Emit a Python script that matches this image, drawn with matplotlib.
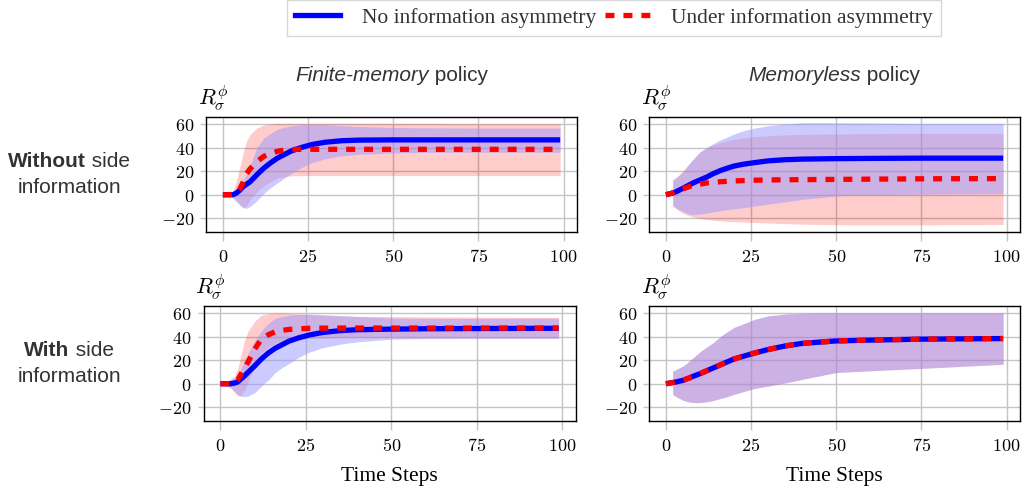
import numpy as np
import matplotlib
matplotlib.use("Agg")
import matplotlib.pyplot as plt
from matplotlib.lines import Line2D
from matplotlib.ticker import FuncFormatter

plt.rcParams['mathtext.fontset'] = 'cm'

nan = np.nan
# ---------------- data ----------------
T = [0, 1, 2, 3, 4, 5, 6, 7, 8, 10, 12, 14, 16, 18, 20, 23, 26, 30, 35, 40, 50, 60, 75, 99]

# Finite-memory, without side information
fm_ns_blue_mean = [0, 0, 0, 0, 1.5, 4, 7, 9, 11, 17, 22.5, 27, 31, 34, 37, 40, 42.5, 44.5, 45.8, 46.3, 46.5, 46.5, 46.5, 46.5]
fm_ns_blue_lo = [0, -0.5, -1, -3, -6, -9, -11, -11.5, -10, -5, 1, 6, 10, 14, 18, 23, 27, 30.5, 33, 34.3, 35.5, 36, 36, 36]
fm_ns_blue_hi = [0, 0.5, 1, 2, 4, 7, 12, 18, 25, 40, 48, 52, 55.5, 57.2, 58.3, 59.3, 59.7, 59.5, 58.5, 57.8, 57, 56.7, 56.5, 56.5]
fm_ns_red_mean = [0, 0, 0, 0.5, 2, 5, 11, 18, 22, 28, 32.5, 35, 36.8, 37.8, 38.3, 38.5, 38.5, 38.5, 38.5, 38.5, 38.5, 38.5, 38.5, 38.5]
fm_ns_red_lo = [0, -0.5, -1, -2, -5, -8, -11, -9, -4, 2.5, 7.5, 11, 14, 15.3, 16, 16.2, 16.2, 16.2, 16.2, 16.2, 16.2, 16.2, 16.2, 16.2]
fm_ns_red_hi = [0, 0.5, 1, 3, 12, 24, 36, 46, 51, 56.5, 59, 60, 60.5, 60.5, 60.5, 60.5, 60.5, 60.5, 60.5, 60.5, 60.5, 60.4, 60.3, 60.3]

# Memoryless, without side information
ml_ns_blue_mean = [0, 0.7, 1.5, 2.5, 4, 5.4, 7, 8.5, 10, 12.5, 15, 18, 20.5, 22.5, 24.3, 26, 27.2, 28.7, 29.7, 30.2, 30.6, 30.8, 31, 31]
ml_ns_blue_lo = [nan, nan, -9, -11, -13, -14, -15.5, -16.5, -17, -16.5, -15.5, -14.5, -13.5, -12.8, -12, -11, -9.5, -8, -6, -4, -1, 0, 0.5, 1]
ml_ns_blue_hi = [nan, nan, 12.5, 14.5, 17, 19.6, 23, 26.5, 30, 36.5, 40, 43.5, 46.5, 49, 51.5, 54.5, 56.5, 58.5, 60, 61, 61, 60.8, 60.5, 60.5]
ml_ns_red_mean = [0, 0.7, 1.5, 2.5, 3.8, 4.8, 6, 7, 8, 9, 10, 10.6, 11, 11.4, 11.7, 12, 12.3, 12.5, 12.7, 12.8, 13, 13.2, 13.5, 13.7]
ml_ns_red_lo = [nan, nan, -10, -12, -14, -15.7, -17, -18, -19, -20, -21, -21.7, -22.2, -22.6, -22.8, -23.2, -23.6, -24, -24.5, -25, -25.5, -25.6, -25.6, -25.3]
ml_ns_red_hi = [nan, nan, 12.5, 14.5, 17, 20, 23.5, 27, 30, 36, 40, 42.5, 44.3, 45.7, 47, 48.3, 49.2, 50, 50.7, 51.2, 51.5, 51.8, 52, 52]

# Finite-memory, with side information
fm_ws_blue_mean = [0, 0, 0, 0, 0.5, 1.4, 4, 6.5, 9.4, 15, 21, 26, 30, 33, 36, 39, 41.3, 43.5, 45, 45.8, 46.3, 46.6, 46.8, 47]
fm_ws_blue_lo = [0, -1, -2, -3.4, -6, -9, -10.5, -11, -10.5, -7.7, -2, 3, 9.3, 13.5, 17, 22.5, 26.8, 30.6, 33.5, 35.5, 37.8, 38.2, 38.3, 38.3]
fm_ws_blue_hi = [0, 1, 2, 3.7, 5, 6.5, 12, 19, 25, 36, 45, 51, 55.4, 57, 58, 58.8, 59, 58.6, 57.8, 57, 55.7, 55.5, 55.4, 55.4]
fm_ws_red_mean = [0, 0, 0, 0, 1, 3, 8, 13, 18, 29, 38, 41.5, 44, 45.2, 46, 46.6, 47, 47.1, 47.2, 47.2, 47.2, 47.2, 47.2, 47.2]
fm_ws_red_lo = [0, -1, -2, -3.4, -7, -10, -10.5, -6, 1, 15, 26, 31, 34, 36, 37.2, 38, 38.4, 38.6, 38.8, 39, 39, 39, 39, 39]
fm_ws_red_hi = [0, 1, 2, 3.7, 6, 12, 24, 36, 44, 53, 58, 59.5, 60, 60, 59.7, 59.2, 58.7, 58, 57.5, 57.2, 56.9, 56.6, 56.4, 56.3]

# Memoryless, with side information (both settings coincide)
ml_ws_blue_mean = [0, 0.5, 1, 1.5, 2.2, 2.8, 4, 5, 6.3, 8.5, 11, 13.5, 16, 18.5, 21, 23.5, 26, 29, 32, 34.2, 36.3, 37, 37.8, 38.3]
ml_ws_blue_lo = [nan, nan, -9, -11, -12.5, -14, -15, -15.5, -16, -16, -15.3, -14.2, -12.5, -11, -9, -6.5, -4, -2, 0.7, 3.7, 9.5, 11, 13, 16.5]
ml_ws_blue_hi = [nan, nan, 10.7, 12, 13.5, 15, 17, 19.5, 22, 27, 31, 35, 40, 44, 47.7, 51, 54.5, 57.5, 59, 59.7, 60, 60, 60, 60]
ml_ws_red_mean = ml_ws_blue_mean
ml_ws_red_lo = ml_ws_blue_lo
ml_ws_red_hi = ml_ws_blue_hi

xticks = [0, 25, 50, 75, 100]
yticks = [-20, 0, 20, 40, 60]
col_titles = [("Finite-memory", " policy"), ("Memoryless", " policy")]
row_titles = [("Without", " side", "information"), ("With", " side", "information")]
legend_labels = ["No information asymmetry", "Under information asymmetry"]

panels = [
    [(fm_ns_blue_mean, fm_ns_blue_lo, fm_ns_blue_hi, fm_ns_red_mean, fm_ns_red_lo, fm_ns_red_hi),
     (ml_ns_blue_mean, ml_ns_blue_lo, ml_ns_blue_hi, ml_ns_red_mean, ml_ns_red_lo, ml_ns_red_hi)],
    [(fm_ws_blue_mean, fm_ws_blue_lo, fm_ws_blue_hi, fm_ws_red_mean, fm_ws_red_lo, fm_ws_red_hi),
     (ml_ws_blue_mean, ml_ws_blue_lo, ml_ws_blue_hi, ml_ws_red_mean, ml_ws_red_lo, ml_ws_red_hi)],
]

# ---------------- figure ----------------
W, H = 1025, 490
fig = plt.figure(figsize=(W / 100, H / 100), dpi=100)

ax_px = [[(206, 117, 371, 115), (649, 117, 371, 115)],
         [(203.5, 306, 372, 115), (649, 306, 371, 115)]]

RED_DASH = (0, (1.7, 1.7))
LW = 3.8
text_col = '#333333'
cm_fmt = FuncFormatter(lambda v, p: r'$%d$' % int(round(v)))

axes = []
for r in range(2):
    for c in range(2):
        x0, y0, w, h = ax_px[r][c]
        ax = fig.add_axes([x0 / W, 1 - (y0 + h) / H, w / W, h / H])
        bm, bl, bh, rm, rl, rh = panels[r][c]
        t = np.array(T, dtype=float)
        ax.fill_between(t, np.array(rl, float), np.array(rh, float), color='red', alpha=0.2, lw=0)
        ax.fill_between(t, np.array(bl, float), np.array(bh, float), color=(0.59, 0.59, 1.0),
                        alpha=0.49, lw=0)
        ax.plot(t, bm, color='blue', lw=LW, solid_capstyle='butt')
        ax.plot(t, rm, color='red', lw=LW, linestyle=RED_DASH)
        ax.set_xlim(-4.95, 103.95)
        ax.set_ylim(-31.6, 65.9)
        ax.set_xticks(xticks)
        ax.set_yticks(yticks)
        ax.xaxis.set_major_formatter(cm_fmt)
        ax.yaxis.set_major_formatter(cm_fmt)
        ax.grid(True, color='#c4c4c4', lw=1.0)
        ax.set_axisbelow(True)
        for s in ax.spines.values():
            s.set_color('black')
            s.set_linewidth(1.0)
        ax.tick_params(axis='x', length=6.5, width=1.0, color='#c4c4c4', pad=5, labelsize=13)
        ax.tick_params(axis='y', length=4.5, width=1.0, color='#c4c4c4', pad=4, labelsize=13)
        ax.text(-0.022, 1.104, r'$R_\sigma^\phi$', transform=ax.transAxes, fontsize=16,
                ha='left', va='baseline')
        if r == 1:
            ax.set_xlabel('Time Steps', family='Liberation Serif', fontsize=15.5, labelpad=9)
        axes.append(ax)

renderer = fig.canvas.get_renderer()


def two_part(cx, cy, a, b, fs, style_a=None, weight_a=None):
    t1 = fig.text(0, 0, a, fontsize=fs, family='Liberation Sans', style=style_a or 'normal',
                  weight=weight_a or 'normal', color=text_col, va='center', ha='left')
    t2 = fig.text(0, 0, b, fontsize=fs, family='Liberation Sans', color=text_col,
                  va='center', ha='left')
    w1 = t1.get_window_extent(renderer).width
    w2 = t2.get_window_extent(renderer).width
    left = cx - (w1 + w2) / 2
    t1.set_position((left / W, 1 - cy / H))
    t2.set_position(((left + w1) / W, 1 - cy / H))


# column titles
for c in range(2):
    x0, y0, w, h = ax_px[0][c]
    two_part(x0 + w / 2, 75, col_titles[c][0], col_titles[c][1], 15, style_a='italic')

# row titles
for r in range(2):
    x0, y0, w, h = ax_px[r][0]
    cy = y0 + h / 2
    two_part(69, cy - 13, row_titles[r][0], row_titles[r][1], 15, weight_a='bold')
    fig.text(69 / W, 1 - (cy + 13) / H, row_titles[r][2], fontsize=15, family='Liberation Sans',
             color=text_col, ha='center', va='center')

# legend
handles = [Line2D([], [], color='blue', lw=LW),
           Line2D([], [], color='red', lw=LW, linestyle=RED_DASH)]
leg = fig.legend(handles, legend_labels, loc='center', bbox_to_anchor=(614 / W, 1 - 18 / H),
                 ncol=2, frameon=True, fancybox=False, edgecolor='#cccccc',
                 prop={'family': 'Liberation Serif', 'size': 15.5},
                 handlelength=2.1, handletextpad=1.0, columnspacing=0.4, borderpad=0.35,
                 borderaxespad=0)
leg.get_frame().set_linewidth(1.0)
for txt in leg.get_texts():
    txt.set_color(text_col)

fig.savefig('out.png', dpi=100)
